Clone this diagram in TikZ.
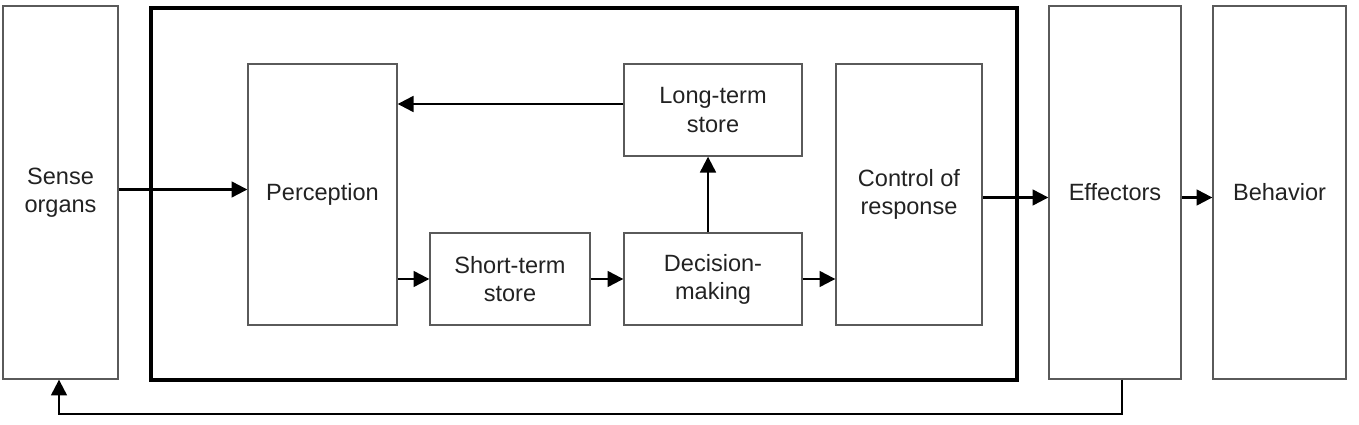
\documentclass[tikz,border=0pt]{standalone}
\usepackage{fontspec}
\setmainfont{Liberation Sans}
\usepackage{tikz}
\usetikzlibrary{arrows.meta, positioning}
\definecolor{boxGray}{HTML}{5A5A5A}
\definecolor{textGray}{HTML}{222222}

\begin{document}
\begin{tikzpicture}[
x=0.02cm, y=-0.02cm,
box/.style={
draw=boxGray,
line width=0.8pt,
align=center,
inner sep=0pt,
text=textGray,
font=\fontsize{13.4}{16}\selectfont
},
tallbox/.style={box, minimum width=#1, minimum height=7.46cm},
midbox/.style={box, minimum width=#1, minimum height=5.22cm},
smallbox/.style={box, minimum width=#1, minimum height=1.84cm},
arrow/.style={-{Triangle[length=9pt, width=9pt]}, line width=1.3pt, black}
]

\useasboundingbox (0,0) rectangle (1359,425);

\node[draw, line width=2.2pt, minimum width=17.32cm, minimum height=7.44cm] (core) at (584,194) {};

\node[tallbox=2.3cm] (sense) at (60.5,192.5) {Sense\\organs};

\node[midbox=2.98cm] (perc) at (322.5,194.5) {Perception};

\node[smallbox=3.56cm] (lts) at (713,110) {Long-term\\store};

\node[smallbox=3.2cm] (sts) at (510,279) {Short-term\\store};

\node[smallbox=3.56cm] (dm) at (713,279) {Decision-\\making};

\node[midbox=2.92cm] (ctrl) at (909,194.5) {Control of\\response};

\node[tallbox=2.64cm] (eff) at (1115,192.5) {Effectors};

\node[tallbox=2.66cm] (beh) at (1279.5,192.5) {Behavior};


\draw[arrow] ([yshift=0.06cm]sense.east) -- ([yshift=0.06cm]sense.east -| perc.west);
\draw[arrow] ([yshift=0.12cm]lts.west) -- ([yshift=0.12cm]lts.west -| perc.east);
\draw[arrow] (perc.east |- sts) -- (sts);
\draw[arrow] (sts) -- (dm);
\draw[arrow] ([xshift=-0.1cm]dm.north) -- ([xshift=-0.1cm]lts.south);
\draw[arrow] (dm.east) -- (dm.east -| ctrl.west);
\draw[arrow] ([yshift=-0.06cm]ctrl.east) -- ([yshift=-0.06cm]ctrl.east -| eff.west);
\draw[arrow] ([yshift=-0.1cm]eff.east) -- ([yshift=-0.1cm]eff.east -| beh.west);
\draw[arrow] ([xshift=0.14cm]eff.south) -- ++(0,34) -| ([xshift=-0.03cm]sense.south);

\end{tikzpicture}
\end{document}
